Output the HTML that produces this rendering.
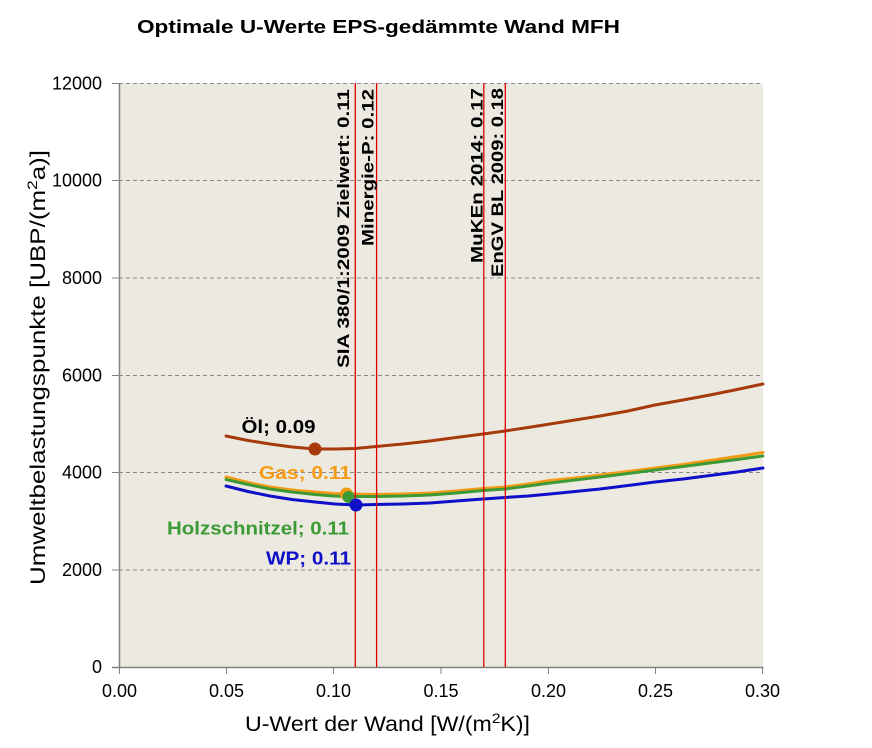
<!DOCTYPE html>
<html>
<head>
<meta charset="utf-8">
<style>
  html,body{margin:0;padding:0;background:#ffffff;}
  svg{display:block;}
  text{font-family:"Liberation Sans", Arial, sans-serif;}
</style>
</head>
<body>
<svg width="872" height="748" viewBox="0 0 872 748" xmlns="http://www.w3.org/2000/svg">
  <rect x="0" y="0" width="872" height="748" fill="#ffffff"/>
  <!-- Title -->
  <text x="137" y="33" font-size="18" font-weight="bold" fill="#000" textLength="483" lengthAdjust="spacingAndGlyphs">Optimale U-Werte EPS-gedämmte Wand MFH</text>

  <!-- Plot area -->
  <rect x="119" y="83.3" width="644" height="583.7" fill="#ECEAE0"/>

  <!-- Gridlines -->
  <g stroke="#8a8a8a" stroke-width="1" stroke-dasharray="4,3">
    <line x1="112" y1="83.5" x2="763" y2="83.5"/>
    <line x1="112" y1="180.5" x2="763" y2="180.5"/>
    <line x1="112" y1="278" x2="763" y2="278"/>
    <line x1="112" y1="375.5" x2="763" y2="375.5"/>
    <line x1="112" y1="472.5" x2="763" y2="472.5"/>
    <line x1="112" y1="570" x2="763" y2="570"/>
  </g>
  <!-- y tick marks (solid part left of axis) -->
  <g stroke="#808080" stroke-width="1">
    <line x1="112" y1="83.5" x2="119" y2="83.5"/>
    <line x1="112" y1="180.5" x2="119" y2="180.5"/>
    <line x1="112" y1="278" x2="119" y2="278"/>
    <line x1="112" y1="375.5" x2="119" y2="375.5"/>
    <line x1="112" y1="472.5" x2="119" y2="472.5"/>
    <line x1="112" y1="570" x2="119" y2="570"/>
    <line x1="112" y1="667.5" x2="119" y2="667.5"/>
  </g>
  <!-- Axes -->
  <line x1="119.5" y1="83" x2="119.5" y2="668" stroke="#808080" stroke-width="1.5"/>
  <line x1="112" y1="667.5" x2="763.5" y2="667.5" stroke="#808080" stroke-width="1.5"/>
  <!-- x ticks -->
  <g stroke="#808080" stroke-width="1">
    <line x1="119.5" y1="667" x2="119.5" y2="674"/>
    <line x1="226.5" y1="667" x2="226.5" y2="674"/>
    <line x1="333.5" y1="667" x2="333.5" y2="674"/>
    <line x1="441" y1="667" x2="441" y2="674"/>
    <line x1="548.5" y1="667" x2="548.5" y2="674"/>
    <line x1="655.5" y1="667" x2="655.5" y2="674"/>
    <line x1="762.5" y1="667" x2="762.5" y2="674"/>
  </g>

  <!-- y tick labels -->
  <g font-size="18" fill="#000" text-anchor="end">
    <text x="102" y="89.5">12000</text>
    <text x="102" y="186.5">10000</text>
    <text x="102" y="284">8000</text>
    <text x="102" y="381.5">6000</text>
    <text x="102" y="478.5">4000</text>
    <text x="102" y="576">2000</text>
    <text x="102" y="673">0</text>
  </g>
  <!-- x tick labels -->
  <g font-size="18" fill="#000" text-anchor="middle">
    <text x="119.5" y="697">0.00</text>
    <text x="226.5" y="697">0.05</text>
    <text x="333.5" y="697">0.10</text>
    <text x="441" y="697">0.15</text>
    <text x="548.5" y="697">0.20</text>
    <text x="655.5" y="697">0.25</text>
    <text x="762.5" y="697">0.30</text>
  </g>

  <!-- Axis titles -->
  <text x="245" y="731" font-size="21" fill="#000" textLength="285" lengthAdjust="spacingAndGlyphs">U-Wert der Wand [W/(m<tspan font-size="14" dy="-8">2</tspan><tspan dy="8">K)]</tspan></text>
  <text transform="translate(45,585) rotate(-90)" font-size="21" fill="#000" textLength="435" lengthAdjust="spacingAndGlyphs">Umweltbelastungspunkte [UBP/(m<tspan font-size="14" dy="-8">2</tspan><tspan dy="8">a)]</tspan></text>

  <!-- Curves -->
  <g fill="none" stroke-width="3" stroke-linejoin="round" stroke-linecap="round">
    <polyline stroke="#A63A0C" points="226,436 248,440.5 270,444 292,447 315,449 335,449 355,448.5 376,446.5 403,444 430,441 456,437.5 483,434 505,431 528,427.5 550,424 575,420 600,416 628,411 655,405 683,400 710,395 737,389.5 763,384"/>
    <polyline stroke="#F59A14" points="226,477 248,482.5 270,487 292,490 315,492 333,493.5 347,494 376,494.5 403,494 430,493 456,491 483,488.5 505,487 528,484 550,480.5 575,478 600,475 628,471.5 655,468 683,464.5 710,460.5 737,456.5 763,452.5"/>
    <polyline stroke="#3C9A36" points="226,479.5 248,484.5 270,489 292,492 315,494.5 333,496 348,496.5 376,496.5 403,496 430,495 456,493 483,490.5 505,489 528,486 550,483 575,480 600,477 628,473.5 655,470 683,466.5 710,463 737,459.5 763,456"/>
    <polyline stroke="#0F0FC8" points="226,486 248,491.5 270,496 292,499.5 315,502 335,504 356,505 376,504.5 403,504 430,503 456,501 483,499 505,497.5 528,496 550,494 575,491.5 600,489 628,485.5 655,482 683,479 710,475.5 737,472 763,468"/>
  </g>

  <!-- Vertical reference lines -->
  <g stroke="#E00000" stroke-width="1.3">
    <line x1="355.3" y1="83" x2="355.3" y2="667"/>
    <line x1="376.6" y1="83" x2="376.6" y2="667"/>
    <line x1="483.8" y1="83" x2="483.8" y2="667"/>
    <line x1="505.3" y1="83" x2="505.3" y2="667"/>
  </g>

  <!-- Dots -->
  <circle cx="315" cy="449" r="6.5" fill="#A63A0C"/>
  <circle cx="346.5" cy="494" r="6.5" fill="#F59A14"/>
  <circle cx="348.5" cy="497" r="6" fill="#3C9A36"/>
  <circle cx="356" cy="505" r="6.5" fill="#0F0FC8"/>

  <!-- Vertical labels -->
  <g font-size="17" font-weight="bold" fill="#000" text-anchor="end">
    <text transform="translate(349,89) rotate(-90)" textLength="279" lengthAdjust="spacingAndGlyphs">SIA 380/1:2009 Zielwert: 0.11</text>
    <text transform="translate(373.5,89) rotate(-90)" textLength="157" lengthAdjust="spacingAndGlyphs">Minergie-P: 0.12</text>
    <text transform="translate(482.5,88) rotate(-90)" textLength="175" lengthAdjust="spacingAndGlyphs">MuKEn 2014: 0.17</text>
    <text transform="translate(503,88) rotate(-90)" textLength="189" lengthAdjust="spacingAndGlyphs">EnGV BL 2009: 0.18</text>
  </g>

  <!-- Series labels -->
  <g font-size="18" font-weight="bold">
    <text x="241.5" y="433" fill="#000" textLength="74" lengthAdjust="spacingAndGlyphs">Öl; 0.09</text>
    <text x="259" y="479" fill="#F59A14" textLength="92" lengthAdjust="spacingAndGlyphs">Gas; 0.11</text>
    <text x="167" y="534.5" fill="#3C9A36" textLength="182" lengthAdjust="spacingAndGlyphs">Holzschnitzel; 0.11</text>
    <text x="266" y="564.5" fill="#0F0FC8" textLength="85" lengthAdjust="spacingAndGlyphs">WP; 0.11</text>
  </g>
</svg>
</body>
</html>
